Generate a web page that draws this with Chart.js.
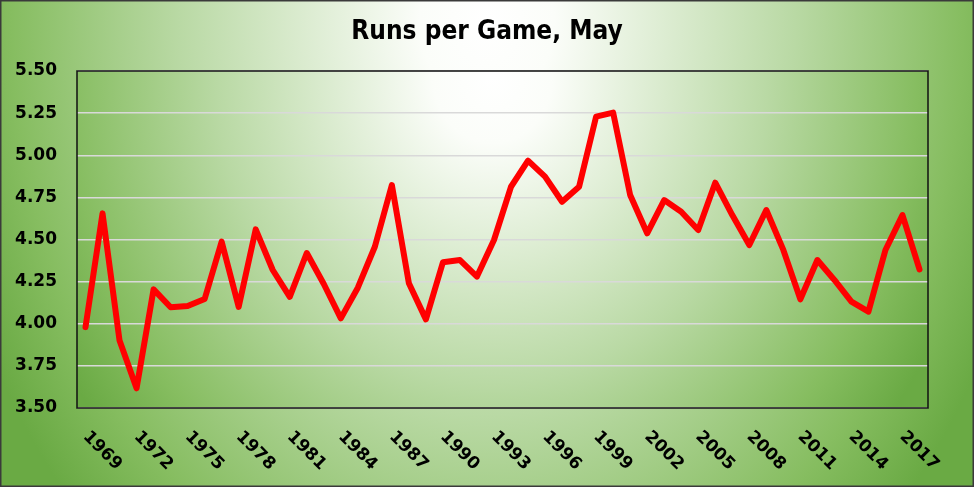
<!DOCTYPE html>
<html>
<head>
<meta charset="utf-8">
<script src="https://cdn.jsdelivr.net/npm/chart.js@4/dist/chart.umd.min.js"></script>
<style>
  html, body { margin: 0; padding: 0; background: #ffffff; }
  #wrap { width: 974px; height: 487px; position: relative; }
  canvas { display: block; }
</style>
</head>
<body>
<div id="wrap"><canvas id="c" width="974" height="487"></canvas></div>
<script>
// ---- data ----
const years = [1969,1970,1971,1972,1973,1974,1975,1976,1977,1978,
               1979,1980,1981,1982,1983,1984,1985,1986,1987,1988,
               1989,1990,1991,1992,1993,1994,1995,1996,1997,1998,
               1999,2000,2001,2002,2003,2004,2005,2006,2007,2008,
               2009,2010,2011,2012,2013,2014,2015,2016,2017,2018];
const runsPerGame = [3.98,4.655,3.90,3.617,4.204,4.098,4.105,4.147,4.487,4.10,
                     4.56,4.319,4.16,4.42,4.236,4.032,4.214,4.457,4.823,4.24,
                     4.026,4.365,4.378,4.28,4.497,4.813,4.968,4.873,4.724,4.813,
                     5.229,5.253,4.764,4.537,4.734,4.665,4.556,4.837,4.645,4.467,
                     4.675,4.438,4.145,4.378,4.26,4.131,4.072,4.438,4.645,4.323];
const yTicks = [3.50,3.75,4.00,4.25,4.50,4.75,5.00,5.25,5.50];
const labelEvery = 3;
const titleText = 'Runs per Game, May';

function ellipseGradientFill(ctx, x, y, w, h, cx, cy, rx, ry, stops) {
  ctx.save();
  ctx.beginPath();
  ctx.rect(x, y, w, h);
  ctx.clip();
  ctx.translate(cx, cy);
  ctx.scale(rx / ry, 1);
  const g = ctx.createRadialGradient(0, 0, 0, 0, 0, ry);
  stops.forEach(s => g.addColorStop(s[0], s[1]));
  ctx.fillStyle = g;
  ctx.fillRect(-5000, -5000, 10000, 10000);
  ctx.restore();
}

const stopsGreen = [[0, '#ffffff'], [0.12, '#fbfdf9'], [0.55, '#b9d9a4'], [0.85, '#86bd60'], [1, '#6aaa44']];

const bgPlugin = {
  id: 'bg',
  beforeDraw(chart) {
    const ctx = chart.ctx;
    const W = chart.width, H = chart.height;
    ellipseGradientFill(ctx, 0, 0, W, H, W / 2, 20, 560, 720, stopsGreen);
    ctx.save();
    ctx.strokeStyle = '#3a3a3a';
    ctx.lineWidth = 1.5;
    ctx.strokeRect(0.75, 0.75, W - 1.5, H - 1.5);
    ctx.restore();
    const a = chart.chartArea;
    ellipseGradientFill(ctx, a.left, a.top, a.right - a.left, a.bottom - a.top,
      (a.left + a.right) / 2 - 10, a.top + 5, 500, 560, stopsGreen);
  },
  afterDatasetsDraw(chart) {
    const ctx = chart.ctx;
    const a = chart.chartArea;
    ctx.save();
    ctx.strokeStyle = '#111111';
    ctx.lineWidth = 1.5;
    ctx.strokeRect(a.left, a.top, a.right - a.left, a.bottom - a.top);
    ctx.restore();
    // rotated x labels (down-right, as in the reference)
    const xs = chart.scales.x;
    ctx.save();
    ctx.fillStyle = '#000000';
    ctx.font = 'bold 17px "DejaVu Sans", sans-serif';
    ctx.textAlign = 'left';
    ctx.textBaseline = 'middle';
    years.forEach((yr, i) => {
      if (i % labelEvery !== 0) return;
      const px = xs.getPixelForValue(i);
      ctx.save();
      ctx.translate(px, a.bottom + 26);
      ctx.rotate(Math.PI / 4);
      ctx.fillText(String(yr), 0, 0);
      ctx.restore();
    });
    ctx.restore();
  }
};

new Chart(document.getElementById('c'), {
  type: 'line',
  data: {
    labels: years.map(String),
    datasets: [{
      data: runsPerGame,
      borderColor: '#ff0000',
      borderWidth: 6,
      pointRadius: 0,
      tension: 0,
      borderJoinStyle: 'round',
      borderCapStyle: 'round',
      fill: false,
      yAxisID: 'y'
    }]
  },
  options: {
    responsive: false,
    animation: false,
    layout: { padding: 0 },
    plugins: {
      legend: { display: false },
      tooltip: { enabled: false },
      title: {
        display: true,
        text: titleText,
        color: '#000000',
        font: { family: '"DejaVu Sans Condensed", "DejaVu Sans", sans-serif', size: 26, weight: 'bold', lineHeight: 1.2 },
        padding: { top: 17, bottom: 22.8 }
      }
    },
    scales: {
      x: {
        type: 'category',
        offset: true,
        grid: { display: false, drawTicks: false },
        border: { display: false },
        ticks: { display: false },
        afterFit(s) { s.height = 79; }
      },
      y: {
        min: 3.5,
        max: 5.5,
        afterBuildTicks(s) { s.ticks = yTicks.map(v => ({ value: v })); },
        grid: { color: '#d9d9d9', lineWidth: 1.5, drawTicks: false },
        border: { display: false },
        ticks: {
          color: '#000000',
          padding: 20,
          font: { family: '"DejaVu Sans", sans-serif', size: 17, weight: 'bold' },
          callback: v => Number(v).toFixed(2)
        },
        afterFit(s) { s.width = 77; }
      },
      yRight: {
        position: 'right',
        min: 3.5,
        max: 5.5,
        grid: { display: false, drawTicks: false },
        border: { display: false },
        ticks: { display: false },
        afterFit(s) { s.width = 46; }
      }
    }
  },
  plugins: [bgPlugin]
});
</script>
</body>
</html>
